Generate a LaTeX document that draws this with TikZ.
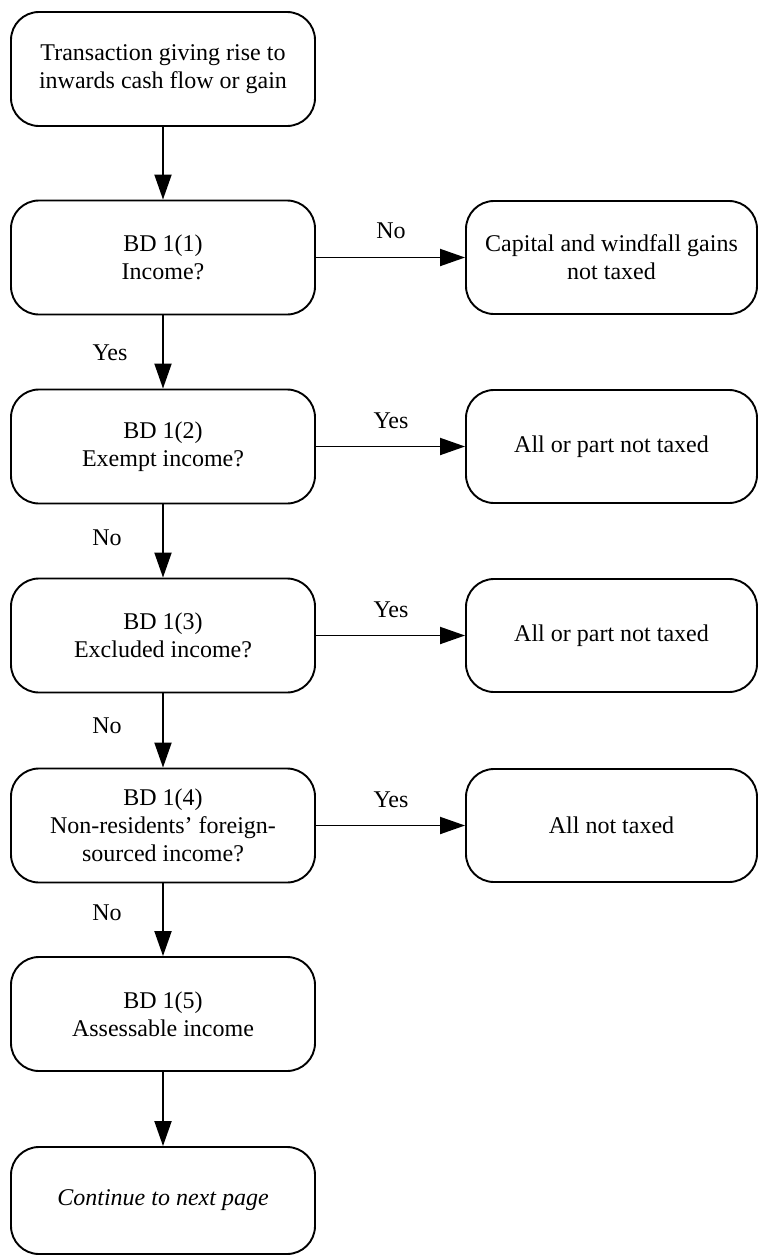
\documentclass[tikz,border=0pt]{standalone}
\usepackage{fontspec}
\setmainfont{Liberation Serif}
\usetikzlibrary{arrows.meta}
\begin{document}
\begin{tikzpicture}[x=1pt,y=-1pt,
  box/.style={draw,line width=1.9pt,rounded corners=28pt,align=center,inner sep=0pt,font=\fontsize{24}{28}\selectfont},
  lbox/.style={box,minimum width=304pt,minimum height=114pt},
  rbox/.style={box,minimum width=291pt,minimum height=113pt},
  arr/.style={line width=1.9pt,-{Triangle[length=25pt,width=17pt]}},
  lab/.style={font=\fontsize{24}{28}\selectfont,inner sep=0pt,anchor=base}]
\useasboundingbox (0,0) rectangle (759,1256);
% left column
\node[lbox] (t)  at (163,69)    {Transaction giving rise to\\inwards cash flow or gain};
\node[lbox] (b1) at (163,257.5) {BD 1(1)\\Income?};
\node[lbox] (b2) at (163,446.5) {BD 1(2)\\Exempt income?};
\node[lbox] (b3) at (163,635.5) {BD 1(3)\\Excluded income?};
\node[lbox] (b4) at (163,825.5) {BD 1(4)\\Non-residents’ foreign-\\sourced income?};
\node[lbox] (b5) at (163,1014)  {BD 1(5)\\Assessable income};
\node[lbox,minimum height=107pt] (c) at (163,1200.5) {\textit{Continue to next page}};
% right column
\node[rbox] (r1) at (611.5,257.5) {Capital and windfall gains\\not taxed};
\node[rbox] (r2) at (611.5,446.5) {All or part not taxed};
\node[rbox] (r3) at (611.5,635.5) {All or part not taxed};
\node[rbox] (r4) at (611.5,825.5) {All not taxed};
% vertical connectors
\draw[arr] (t.south) -- (b1.north);
\draw[arr] (b1.south) -- (b2.north);
\draw[arr] (b2.south) -- (b3.north);
\draw[arr] (b3.south) -- (b4.north);
\draw[arr] (b4.south) -- (b5.north);
\draw[arr] (b5.south) -- (c.north);
% horizontal connectors
\draw[arr] (b1.east) -- (r1.west);
\draw[arr] (b2.east) -- (r2.west);
\draw[arr] (b3.east) -- (r3.west);
\draw[arr] (b4.east) -- (r4.west);
% labels
\node[lab] (l1) at (110,360) {Yes};
\node[lab] (l2) at (107,545) {No};
\node[lab] (l3) at (107,733) {No};
\node[lab] (l4) at (107,920) {No};
\node[lab] (h1) at (391,238) {No};
\node[lab] (h2) at (391,428) {Yes};
\node[lab] (h3) at (391,617) {Yes};
\node[lab] (h4) at (391,807) {Yes};
\end{tikzpicture}
\end{document}
